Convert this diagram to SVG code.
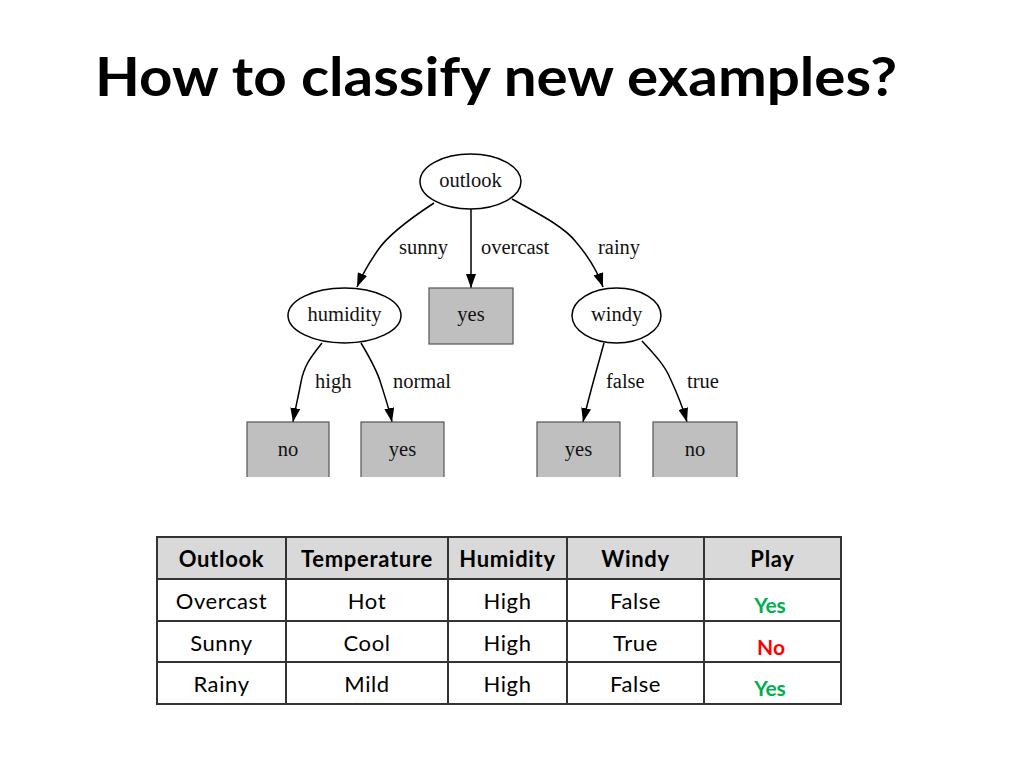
<svg xmlns="http://www.w3.org/2000/svg" width="1024" height="768" viewBox="0 0 1024 768">
<style>
.title{font-family:Lato,"Open Sans",sans-serif;font-weight:bold;font-size:54px;fill:#000}
.node ellipse{fill:#fff;stroke:#000;stroke-width:1.5}
.leaf rect{fill:#bfbfbf;stroke:#555;stroke-width:1.2}
.t{font-family:"Liberation Serif","DejaVu Serif",serif;font-size:20.5px;fill:#111;text-anchor:middle}
.lbl{font-family:"Liberation Serif","DejaVu Serif",serif;font-size:20.5px;fill:#111}
.edge{fill:none;stroke:#000;stroke-width:1.5;marker-end:url(#arr)}
.cell{fill:#fff;stroke:#333;stroke-width:2}
.hcell{fill:#d9d9d9;stroke:#333;stroke-width:2}
.th{font-family:Lato,"Open Sans",sans-serif;font-weight:bold;font-size:22px;letter-spacing:0.7px;text-anchor:middle;fill:#000}
.td{font-family:Lato,"Open Sans",sans-serif;font-size:22px;letter-spacing:0.6px;text-anchor:middle;fill:#000}
.yes{font-family:Lato,"Open Sans",sans-serif;font-weight:bold;font-size:21px;text-anchor:middle;fill:#00b050}
.no{font-family:Lato,"Open Sans",sans-serif;font-weight:bold;font-size:21px;text-anchor:middle;fill:#ff0000}
</style>
<defs>
<marker id="arr" viewBox="0 0 14 10" refX="14" refY="5" markerWidth="14" markerHeight="10" markerUnits="userSpaceOnUse" orient="auto">
<path d="M0,0 L14,5 L0,10 Z" fill="#000"/>
</marker>
</defs>
<rect width="1024" height="768" fill="#fff"/>
<text class="title" x="95" y="96" textLength="802" lengthAdjust="spacingAndGlyphs">How to classify new examples?</text>

<g id="edges">
<path class="edge" d="M434,203 C405,222 386,238 378,250 C369,263 362,275 357,287"/>
<path class="edge" d="M471,209 L471,288"/>
<path class="edge" d="M512,199 C545,217 565,228 576,242 C588,256 597,270 603,287"/>
<path class="edge" d="M322,343 C310,358 304,366 301,382 C298,398 295,410 293,422"/>
<path class="edge" d="M361,343 C370,358 377,370 381,384 C386,400 390,412 392,422"/>
<path class="edge" d="M604,343 C598,365 590,392 583,422"/>
<path class="edge" d="M642,341 C656,356 665,366 670,378 C677,393 683,408 687,422"/>
<text class="lbl" x="399" y="254">sunny</text>
<text class="lbl" x="481" y="254">overcast</text>
<text class="lbl" x="598" y="254">rainy</text>
<text class="lbl" x="315" y="388">high</text>
<text class="lbl" x="393" y="388">normal</text>
<text class="lbl" x="606" y="388">false</text>
<text class="lbl" x="687" y="388">true</text>
</g>

<g id="outlook" class="node"><ellipse cx="470.5" cy="181.5" rx="50.5" ry="27.5"/><text class="t" x="470.5" y="187">outlook</text></g>
<g id="humidity" class="node"><ellipse cx="344.5" cy="315.5" rx="56.5" ry="27.5"/><text class="t" x="344.5" y="321">humidity</text></g>
<g id="windy" class="node"><ellipse cx="616.5" cy="315.5" rx="44.5" ry="27.5"/><text class="t" x="616.5" y="321">windy</text></g>
<g id="leaf-overcast" class="leaf"><rect x="429" y="288" width="84" height="56"/><text class="t" x="471" y="321">yes</text></g>
<g id="leaf-high" class="leaf"><rect x="247" y="422" width="82" height="56"/><text class="t" x="288" y="456">no</text></g>
<g id="leaf-normal" class="leaf"><rect x="361" y="422" width="83" height="56"/><text class="t" x="402.5" y="456">yes</text></g>
<g id="leaf-false" class="leaf"><rect x="537" y="422" width="83" height="56"/><text class="t" x="578.5" y="456">yes</text></g>
<g id="leaf-true" class="leaf"><rect x="653" y="422" width="84" height="56"/><text class="t" x="695" y="456">no</text></g>
<rect x="240" y="477" width="520" height="10" fill="#fff"/>

<g id="table">
<rect class="hcell" x="157" y="537" width="129" height="42"/>
<rect class="hcell" x="286" y="537" width="162" height="42"/>
<rect class="hcell" x="448" y="537" width="119" height="42"/>
<rect class="hcell" x="567" y="537" width="137" height="42"/>
<rect class="hcell" x="704" y="537" width="137" height="42"/>
<rect class="cell" x="157" y="579" width="129" height="42"/>
<rect class="cell" x="286" y="579" width="162" height="42"/>
<rect class="cell" x="448" y="579" width="119" height="42"/>
<rect class="cell" x="567" y="579" width="137" height="42"/>
<rect class="cell" x="704" y="579" width="137" height="42"/>
<rect class="cell" x="157" y="621" width="129" height="41"/>
<rect class="cell" x="286" y="621" width="162" height="41"/>
<rect class="cell" x="448" y="621" width="119" height="41"/>
<rect class="cell" x="567" y="621" width="137" height="41"/>
<rect class="cell" x="704" y="621" width="137" height="41"/>
<rect class="cell" x="157" y="662" width="129" height="42"/>
<rect class="cell" x="286" y="662" width="162" height="42"/>
<rect class="cell" x="448" y="662" width="119" height="42"/>
<rect class="cell" x="567" y="662" width="137" height="42"/>
<rect class="cell" x="704" y="662" width="137" height="42"/>
<text class="th" x="221.5" y="567">Outlook</text>
<text class="th" x="367" y="567">Temperature</text>
<text class="th" x="507.5" y="567">Humidity</text>
<text class="th" x="635.5" y="567">Windy</text>
<text class="th" x="772.5" y="567">Play</text>
<text class="td" x="221.5" y="609">Overcast</text>
<text class="td" x="367" y="609">Hot</text>
<text class="td" x="507.5" y="609">High</text>
<text class="td" x="635.5" y="609">False</text>
<text class="yes" x="770" y="613">Yes</text>
<text class="td" x="221.5" y="651">Sunny</text>
<text class="td" x="367" y="651">Cool</text>
<text class="td" x="507.5" y="651">High</text>
<text class="td" x="635.5" y="651">True</text>
<text class="no" x="771" y="655">No</text>
<text class="td" x="221.5" y="692">Rainy</text>
<text class="td" x="367" y="692">Mild</text>
<text class="td" x="507.5" y="692">High</text>
<text class="td" x="635.5" y="692">False</text>
<text class="yes" x="770" y="696">Yes</text>
</g>
</svg>
